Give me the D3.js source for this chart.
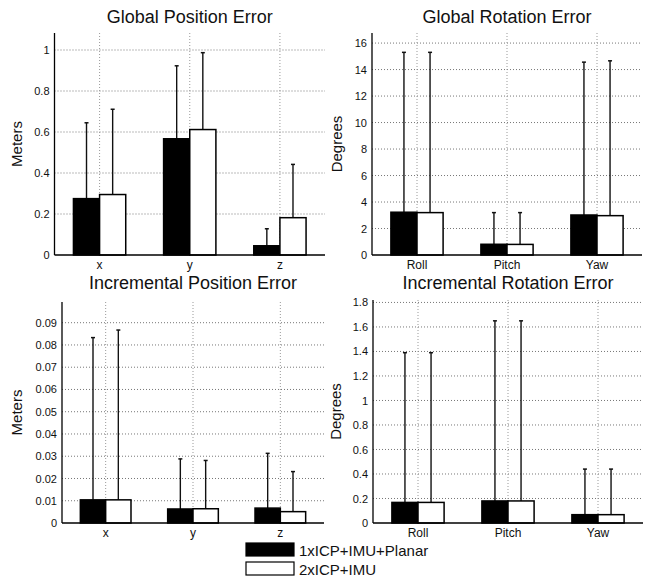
<!DOCTYPE html>
<html>
<head>
<meta charset="utf-8">
<script src="https://cdn.jsdelivr.net/npm/d3@7"></script>
<style>
  body { margin: 0; background: #fff; }
  svg { font-family: 'Liberation Sans', Arial, sans-serif; }
</style>
</head>
<body>
<div id="chart"></div>
<script>
// categories
const posCats = ['x', 'y', 'z']
const rotCats = ['Roll', 'Pitch', 'Yaw']
const series = ['1xICP+IMU+Planar', '2xICP+IMU']

// means [category][series] and std (error bar length above the mean)
const globalPosMean = [[0.275, 0.295], [0.567, 0.612], [0.045, 0.182]]
const globalPosStd = [[0.37, 0.416], [0.356, 0.375], [0.083, 0.26]]

const globalRotMean = [[3.23, 3.2], [0.81, 0.8], [3.02, 2.97]]
const globalRotStd = [[12.07, 12.1], [2.39, 2.4], [11.54, 11.69]]

const incPosMean = [[0.0104, 0.0104], [0.0063, 0.0064], [0.0067, 0.0051]]
const incPosStd = [[0.0729, 0.0763], [0.0225, 0.0217], [0.0246, 0.018]]

const incRotMean = [[0.168, 0.168], [0.18, 0.18], [0.068, 0.068]]
const incRotStd = [[1.222, 1.222], [1.47, 1.47], [0.372, 0.372]]

// tick labels
const globalPosTicks = [0, 0.2, 0.4, 0.6, 0.8, 1]
const globalRotTicks = [0, 2, 4, 6, 8, 10, 12, 14, 16]
const incPosTicks = [0, 0.01, 0.02, 0.03, 0.04, 0.05, 0.06, 0.07, 0.08, 0.09]
const incRotTicks = [0, 0.2, 0.4, 0.6, 0.8, 1, 1.2, 1.4, 1.6, 1.8]

let width = 647
let height = 581

let svg = d3
  .select('#chart')
  .append('svg')
  .attr('width', width)
  .attr('height', height)

let fills = ['#000', '#fff']

let panels = [
  { title: 'Global Position Error', ylabel: 'Meters', cats: posCats, mean: globalPosMean, std: globalPosStd,
    ticks: globalPosTicks, ymax: 1.083, left: 54.5, right: 325, top: 33, bottom: 255, labelX: 18, titleY: 23 },
  { title: 'Global Rotation Error', ylabel: 'Degrees', cats: rotCats, mean: globalRotMean, std: globalRotStd,
    ticks: globalRotTicks, ymax: 16.76, left: 372, right: 642, top: 33, bottom: 255, labelX: 338, titleY: 23 },
  { title: 'Incremental Position Error', ylabel: 'Meters', cats: posCats, mean: incPosMean, std: incPosStd,
    ticks: incPosTicks, ymax: 0.0993, left: 62, right: 324, top: 302, bottom: 523, labelX: 18, titleY: 289 },
  { title: 'Incremental Rotation Error', ylabel: 'Degrees', cats: rotCats, mean: incRotMean, std: incRotStd,
    ticks: incRotTicks, ymax: 1.82, left: 373, right: 643, top: 300, bottom: 523, labelX: 337, titleY: 289 }
]

panels.forEach(p => {
  let g = svg.append('g')

  let x = d3.scaleBand().domain(p.cats).range([p.left, p.right])
  let y = d3.scaleLinear().domain([0, p.ymax]).range([p.bottom, p.top])
  let bw = x.bandwidth() * 0.29

  // horizontal grid
  g.selectAll('.hgrid')
    .data(p.ticks.filter(t => t > 0))
    .enter()
    .append('line')
    .attr('x1', p.left)
    .attr('x2', p.right)
    .attr('y1', d => y(d))
    .attr('y2', d => y(d))
    .attr('stroke', '#777')
    .attr('stroke-width', 1)
    .attr('stroke-dasharray', '1,2')

  // vertical grid
  g.selectAll('.vgrid')
    .data(p.cats)
    .enter()
    .append('line')
    .attr('x1', d => x(d) + x.bandwidth() / 2)
    .attr('x2', d => x(d) + x.bandwidth() / 2)
    .attr('y1', p.top)
    .attr('y2', p.bottom)
    .attr('stroke', '#999')
    .attr('stroke-width', 1)
    .attr('stroke-dasharray', '1,2')

  // bars + error bars
  p.cats.forEach((c, i) => {
    let cx = x(c) + x.bandwidth() / 2
    series.forEach((s, j) => {
      let bx = cx - bw + j * bw
      let m = p.mean[i][j]
      let top = m + p.std[i][j]
      g.append('line')
        .attr('x1', bx + bw / 2)
        .attr('x2', bx + bw / 2)
        .attr('y1', y(m))
        .attr('y2', y(top))
        .attr('stroke', '#111')
        .attr('stroke-width', 1.4)
      g.append('line')
        .attr('x1', bx + bw / 2 - 2)
        .attr('x2', bx + bw / 2 + 2)
        .attr('y1', y(top))
        .attr('y2', y(top))
        .attr('stroke', '#111')
        .attr('stroke-width', 1.5)
      g.append('rect')
        .attr('x', bx)
        .attr('y', y(m))
        .attr('width', bw)
        .attr('height', y(0) - y(m))
        .attr('fill', fills[j])
        .attr('stroke', '#000')
        .attr('stroke-width', 1.5)
    })
  })

  // axes
  let yAxis = d3.axisLeft(y).tickValues(p.ticks).tickSize(0).tickPadding(5).tickFormat(d3.format('~g'))
  let ya = g.append('g').attr('transform', `translate(${p.left},0)`).call(yAxis)
  ya.select('.domain').remove()
  ya.selectAll('text').attr('font-size', 11).attr('fill', '#111').attr('font-family', null)

  let xAxis = d3.axisBottom(x).tickSize(0).tickPadding(5)
  let xa = g.append('g').attr('transform', `translate(0,${p.bottom})`).call(xAxis)
  xa.select('.domain').remove()
  xa.selectAll('text').attr('font-size', 12).attr('fill', '#111').attr('font-family', null)

  g.append('line')
    .attr('x1', p.left).attr('x2', p.left)
    .attr('y1', p.top).attr('y2', p.bottom)
    .attr('stroke', '#000').attr('stroke-width', 1.3)
  g.append('line')
    .attr('x1', p.left).attr('x2', p.right)
    .attr('y1', p.bottom).attr('y2', p.bottom)
    .attr('stroke', '#000').attr('stroke-width', 1.3)

  // title
  g.append('text')
    .text(p.title)
    .attr('x', (p.left + p.right) / 2)
    .attr('y', p.titleY)
    .attr('text-anchor', 'middle')
    .attr('font-size', 18)
    .attr('fill', '#111')

  // y label
  g.append('text')
    .text(p.ylabel)
    .attr('transform', `translate(${p.labelX},${(p.top + p.bottom) / 2}) rotate(-90)`)
    .attr('text-anchor', 'middle')
    .attr('dominant-baseline', 'middle')
    .attr('font-size', 15)
    .attr('fill', '#111')
})

// legend
let legend = svg.append('g').attr('transform', 'translate(246, 543)')

legend
  .selectAll('.legend-entry')
  .data(series)
  .enter()
  .append('g')
  .attr('class', 'legend-entry')
  .attr('transform', (d, i) => `translate(0,${i * 19})`)
  .each(function(d, i) {
    let g = d3.select(this)
    g.append('rect')
      .attr('x', 0)
      .attr('y', 0)
      .attr('width', 48)
      .attr('height', 13)
      .attr('fill', fills[i])
      .attr('stroke', '#000')
      .attr('stroke-width', 1.2)
    g.append('text')
      .text(d)
      .attr('x', 53)
      .attr('y', 13)
      .attr('font-size', 15)
      .attr('fill', '#111')
  })
</script>
</body>
</html>
